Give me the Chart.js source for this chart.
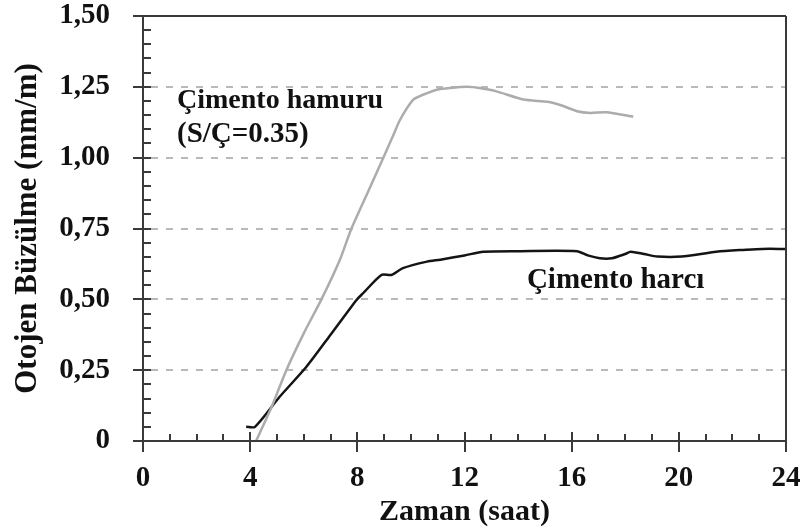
<!DOCTYPE html>
<html>
<head>
<meta charset="utf-8">
<script src="https://cdn.jsdelivr.net/npm/chart.js@4"></script>
<style>
  body { margin: 0; background: #fff; }
</style>
</head>
<body>
<canvas id="grafik" width="808" height="532"></canvas>
<script>
// Çimento hamuru (S/Ç=0.35) - gri çizgi
const hamurSaat = [4.22, 4.8, 5.35, 6.0, 6.66, 7.35, 7.78, 8.4, 8.97, 9.3, 9.59, 10.08, 10.45, 10.97, 11.45, 12.1, 12.6, 13.2, 14.2, 15.1, 15.6, 16.2, 16.7, 17.3, 18.3];
const hamurDeger = [0, 0.12, 0.25, 0.38, 0.5, 0.64, 0.75, 0.88, 1.0, 1.07, 1.133, 1.204, 1.222, 1.24, 1.246, 1.25, 1.245, 1.234, 1.205, 1.197, 1.185, 1.164, 1.158, 1.16, 1.145];

// Çimento harcı - siyah çizgi
const harcSaat = [3.85, 4.18, 5.1, 6.1, 7.0, 7.97, 8.2, 8.9, 9.27, 9.7, 10.6, 11.1, 12.0, 12.7, 14.0, 16.2, 16.6, 17.05, 17.5, 18.0, 18.2, 18.7, 19.2, 20.1, 21.4, 22.5, 23.1, 24.0];
const harcDeger = [0.05, 0.05, 0.156, 0.262, 0.375, 0.498, 0.52, 0.586, 0.586, 0.61, 0.633, 0.64, 0.655, 0.668, 0.67, 0.67, 0.655, 0.645, 0.645, 0.66, 0.668, 0.66, 0.651, 0.651, 0.668, 0.675, 0.678, 0.678];

const xTicks = [0, 4, 8, 12, 16, 20, 24];
const yTicks = [0, 0.25, 0.5, 0.75, 1.0, 1.25, 1.5];
const yTickLabels = ['0', '0,25', '0,50', '0,75', '1,00', '1,25', '1,50'];

const etiketler = [
  { text: 'Çimento hamuru', x: 1.27, y: 1.177, size: 28 },
  { text: '(S/Ç=0.35)', x: 1.27, y: 1.057, size: 29 },
  { text: 'Çimento harcı', x: 14.33, y: 0.54, size: 29 }
];

const serif = "'Liberation Serif', 'Times New Roman', serif";
const eksenRenk = '#3a3a3a';

function toPoints(xs, ys) {
  return xs.map((x, i) => ({ x: x, y: ys[i] }));
}

const eksenCiz = {
  id: 'eksenCiz',
  beforeDatasetsDraw(chart) {
    const { ctx, chartArea: a, scales: { y } } = chart;
    ctx.save();
    ctx.strokeStyle = '#b9b9b9';
    ctx.lineWidth = 2;
    ctx.setLineDash([7, 8]);
    yTicks.forEach(v => {
      if (v <= 0 || v >= 1.5) return;
      const py = Math.round(y.getPixelForValue(v));
      ctx.beginPath();
      ctx.moveTo(a.left + 8, py);
      ctx.lineTo(a.right, py);
      ctx.stroke();
    });
    ctx.restore();
  },
  afterDatasetsDraw(chart) {
    const { ctx, chartArea: a, scales: { x, y } } = chart;
    ctx.save();
    ctx.strokeStyle = eksenRenk;
    ctx.lineWidth = 2;
    ctx.beginPath();
    // cerceve
    ctx.moveTo(a.left - 10, a.top);
    ctx.lineTo(a.right, a.top);
    ctx.moveTo(a.left, a.top);
    ctx.lineTo(a.left, a.bottom + 11);
    ctx.moveTo(a.left - 10, a.bottom);
    ctx.lineTo(a.right, a.bottom);
    ctx.moveTo(a.right, a.top);
    ctx.lineTo(a.right, a.bottom + 11);
    // x tikleri
    for (let h = 0; h <= 24; h++) {
      const px = Math.round(x.getPixelForValue(h));
      if (h % 4 === 0) {
        ctx.moveTo(px, a.bottom - 9);
        ctx.lineTo(px, a.bottom + 11);
      } else {
        ctx.moveTo(px, a.bottom - 7);
        ctx.lineTo(px, a.bottom);
      }
    }
    // y tikleri
    for (let i = 0; i <= 30; i++) {
      const py = Math.round(y.getPixelForValue(i * 0.05));
      if (i % 5 === 0) {
        ctx.moveTo(a.left - 10, py);
        ctx.lineTo(a.left + 8, py);
      } else {
        ctx.moveTo(a.left, py);
        ctx.lineTo(a.left + 8, py);
      }
    }
    ctx.stroke();

    ctx.fillStyle = '#111';
    ctx.textAlign = 'left';
    ctx.textBaseline = 'alphabetic';
    etiketler.forEach(e => {
      ctx.font = 'bold ' + e.size + 'px ' + serif;
      ctx.fillText(e.text, x.getPixelForValue(e.x), y.getPixelForValue(e.y));
    });
    ctx.restore();
  }
};

new Chart(document.getElementById('grafik').getContext('2d'), {
  type: 'line',
  data: {
    datasets: [
      {
        label: 'Çimento hamuru (S/Ç=0.35)',
        data: toPoints(hamurSaat, hamurDeger),
        borderColor: '#acacac',
        borderWidth: 2.5,
        pointRadius: 0,
        tension: 0.2
      },
      {
        label: 'Çimento harcı',
        data: toPoints(harcSaat, harcDeger),
        borderColor: '#141414',
        borderWidth: 2.5,
        pointRadius: 0,
        tension: 0.25
      }
    ]
  },
  options: {
    responsive: false,
    animation: false,
    layout: { padding: { top: 16, right: 22, left: 0, bottom: 0 } },
    plugins: { legend: { display: false }, tooltip: { enabled: false } },
    scales: {
      x: {
        type: 'linear',
        min: 0,
        max: 24,
        afterBuildTicks: s => { s.ticks = xTicks.map(v => ({ value: v })); },
        ticks: {
          color: '#111',
          padding: 12,
          font: { family: serif, size: 29, weight: 'bold' },
          maxRotation: 0
        },
        grid: { display: false },
        border: { display: false },
        title: {
          display: true,
          text: 'Zaman (saat)',
          color: '#111',
          font: { family: serif, size: 30, weight: 'bold' },
          padding: { top: 0, bottom: 2 }
        },
        afterFit: s => { s.height = 91; s.paddingLeft = 0; s.paddingRight = 0; }
      },
      y: {
        min: 0,
        max: 1.5,
        afterBuildTicks: s => { s.ticks = yTicks.map(v => ({ value: v })); },
        ticks: {
          color: '#111',
          padding: 25,
          font: { family: serif, size: 29, weight: 'bold' },
          callback: v => yTickLabels[yTicks.indexOf(v)]
        },
        grid: { display: false },
        border: { display: false },
        title: {
          display: true,
          text: 'Otojen Büzülme (mm/m)',
          color: '#111',
          font: { family: serif, size: 31, weight: 'bold' },
          padding: { top: 9, bottom: 0 }
        },
        afterFit: s => { s.width = 143; s.paddingTop = 0; s.paddingBottom = 0; }
      }
    }
  },
  plugins: [eksenCiz]
});
</script>
</body>
</html>
